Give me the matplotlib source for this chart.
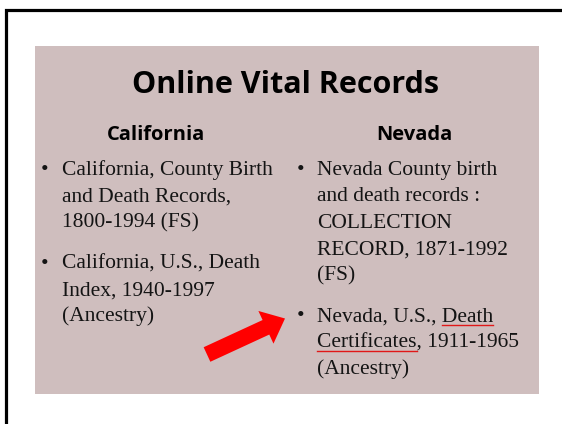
import matplotlib
matplotlib.use("Agg")
import matplotlib.pyplot as plt
from matplotlib.patches import Rectangle, FancyArrow

# slide content
title = "Online Vital Records"
states = ["California", "Nevada"]
california_items = [
    ["California, County Birth", "and Death Records,", "1800-1994 (FS)"],
    ["California, U.S., Death", "Index, 1940-1997", "(Ancestry)"],
]
nevada_items = [
    ["Nevada County birth", "and death records :", "COLLECTION",
     "RECORD, 1871-1992", "(FS)"],
    ["Nevada, U.S., Death", "Certificates, 1911-1965", "(Ancestry)"],
]
# (item, line, linked word) that gets the red hyperlink underline
nevada_links = [(1, 0, "Death"), (1, 1, "Certificates")]

# layout in pixels (figure is 562x424)
W, H = 562, 424
box = (35, 46, 539, 394)
box_color = "#cfbebe"
text_color = "#141414"
serif = "Liberation Serif"
sans = "Open Sans"
body_size = 15.5
first_base = 175
line_step = 26.4
para_gap = 14.5
columns = [dict(bullet_x=45, text_x=62, head_x=156),
           dict(bullet_x=301, text_x=317, head_x=414)]
arrow_tail = (207, 354.5)
arrow_tip = (285, 318.5)

fig = plt.figure(figsize=(W / 100, H / 100), dpi=100)
ax = fig.add_axes([0, 0, 1, 1])
ax.set_xlim(0, W)
ax.set_ylim(H, 0)
ax.axis("off")

# outer slide frame (only top and left are in view)
ax.plot([6, 6, W + 5], [H + 5, 9.5, 9.5], color="black", lw=2.3,
        solid_joinstyle="miter")

ax.add_patch(Rectangle((box[0], box[1]), box[2] - box[0], box[3] - box[1],
                       facecolor=box_color, edgecolor="none"))

ax.text(286, 93, title, fontsize=22, fontweight="bold", family=sans,
        ha="center", va="baseline", color="black")

fig.canvas.draw()
renderer = fig.canvas.get_renderer()


def text_width(s):
    t = ax.text(0, 0, s, fontsize=body_size, family=serif)
    bb = t.get_window_extent(renderer)
    t.remove()
    return bb.width


for col, head, items in zip(columns, states, [california_items, nevada_items]):
    ax.text(col["head_x"], 140, head, fontsize=14.5, fontweight="bold",
            family=sans, ha="center", va="baseline", color="black")
    y = first_base
    for i, item in enumerate(items):
        ax.text(col["bullet_x"], y, "\u2022", fontsize=body_size, family=serif,
                ha="center", va="baseline", color=text_color)
        for j, line in enumerate(item):
            ax.text(col["text_x"], y, line, fontsize=body_size, family=serif,
                    ha="left", va="baseline", color=text_color)
            if items is nevada_items:
                for (li, lj, word) in nevada_links:
                    if li == i and lj == j:
                        k = line.index(word) + len(word)
                        end = col["text_x"] + text_width(line[:k])
                        start = end - text_width(word)
                        ax.plot([start, end], [y + 3.5, y + 3.5],
                                color="#e01818", lw=1.0)
            y += line_step
        y += para_gap

ax.add_patch(FancyArrow(arrow_tail[0], arrow_tail[1],
                        arrow_tip[0] - arrow_tail[0],
                        arrow_tip[1] - arrow_tail[1],
                        width=16, head_width=36, head_length=21,
                        length_includes_head=True,
                        facecolor="#ff0000", edgecolor="none"))

fig.savefig("out.png", dpi=100)
